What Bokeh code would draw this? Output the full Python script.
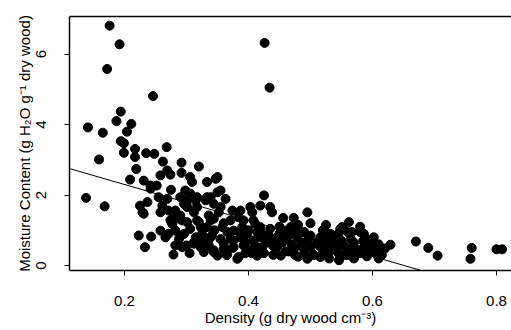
from bokeh.plotting import figure
from bokeh.models import Range1d, FixedTicker, LinearAxis, Slope, ColumnDataSource
from bokeh.embed import file_html
from bokeh.resources import INLINE

# Wood density (g cm-3) and moisture content (g H2O per g dry wood)
density = [
    0.176, 0.192, 0.172, 0.426, 0.434, 0.246, 0.194, 0.187, 0.211, 0.141,
    0.165, 0.204, 0.194, 0.199, 0.159, 0.138, 0.168, 0.199, 0.217, 0.217,
    0.235, 0.248, 0.268, 0.262, 0.292, 0.219, 0.269, 0.274, 0.258, 0.292,
    0.209, 0.231, 0.242, 0.252, 0.275, 0.255, 0.269, 0.290, 0.225, 0.237,
    0.229, 0.231, 0.261, 0.271, 0.277, 0.290, 0.277, 0.258, 0.271, 0.266,
    0.223, 0.243, 0.233, 0.282, 0.279, 0.293, 0.290, 0.320, 0.306, 0.333,
    0.350, 0.242, 0.306, 0.317, 0.301, 0.296, 0.333, 0.350, 0.258, 0.282,
    0.274, 0.288, 0.301, 0.317, 0.306, 0.323, 0.336, 0.344, 0.333, 0.325,
    0.339, 0.282, 0.288, 0.300, 0.312, 0.328, 0.344, 0.336, 0.350, 0.309,
    0.347, 0.355, 0.298, 0.298, 0.301, 0.315, 0.331, 0.339, 0.344, 0.363,
    0.317, 0.312, 0.355, 0.352, 0.374, 0.387, 0.384, 0.403, 0.419, 0.425,
    0.293, 0.296, 0.320, 0.339, 0.341, 0.325, 0.323, 0.358, 0.366, 0.376,
    0.390, 0.398, 0.414, 0.411, 0.312, 0.328, 0.366, 0.384, 0.400, 0.414,
    0.422, 0.376, 0.360, 0.435, 0.438, 0.406, 0.495, 0.456, 0.473, 0.468,
    0.479, 0.460, 0.371, 0.392, 0.408, 0.419, 0.435, 0.562, 0.548, 0.532,
    0.516, 0.586, 0.371, 0.387, 0.408, 0.419, 0.435, 0.446, 0.462, 0.479,
    0.495, 0.344, 0.360, 0.376, 0.392, 0.414, 0.446, 0.473, 0.500, 0.521,
    0.543, 0.565, 0.586, 0.382, 0.452, 0.495, 0.516, 0.546, 0.570, 0.591,
    0.629, 0.670, 0.690, 0.705, 0.760, 0.758, 0.800, 0.809, 0.602, 0.551,
    0.567, 0.470, 0.490, 0.510, 0.530, 0.550, 0.570, 0.580, 0.600, 0.610,
    0.520, 0.540, 0.560, 0.580, 0.600, 0.615, 0.570, 0.530, 0.480, 0.440,
    0.430, 0.450, 0.490, 0.500, 0.525, 0.545, 0.595, 0.605, 0.620, 0.555,
    0.575, 0.590, 0.505, 0.465, 0.485, 0.535, 0.395, 0.365, 0.445, 0.610,
    0.305, 0.315, 0.330, 0.345, 0.355, 0.365, 0.375, 0.385, 0.395, 0.405,
    0.410, 0.420, 0.425, 0.430, 0.440, 0.455, 0.460, 0.470, 0.475, 0.485,
    0.490, 0.500, 0.505, 0.515, 0.520, 0.530, 0.535, 0.545, 0.555, 0.560,
    0.565, 0.575, 0.585, 0.590, 0.600, 0.610, 0.400, 0.360, 0.450, 0.480,
    0.520, 0.550, 0.580,
]
moisture = [
    6.81, 6.28, 5.58, 6.32, 5.05, 4.81, 4.37, 4.10, 4.02, 3.92,
    3.77, 3.80, 3.53, 3.47, 3.01, 1.92, 1.68, 3.20, 3.31, 3.08,
    3.19, 3.17, 3.36, 2.95, 2.92, 2.74, 2.70, 2.58, 2.56, 2.63,
    2.44, 2.41, 2.27, 2.27, 2.15, 1.94, 1.89, 1.94, 1.70, 1.80,
    1.51, 1.47, 1.70, 1.56, 1.33, 1.42, 1.18, 0.99, 0.90, 0.80,
    0.85, 0.82, 0.52, 0.57, 0.31, 0.52, 0.85, 2.81, 2.51, 2.37,
    2.51, 2.18, 2.04, 1.94, 1.85, 1.75, 1.94, 2.08, 1.51, 1.56,
    1.28, 1.33, 1.23, 1.28, 1.04, 1.09, 1.42, 1.33, 1.09, 0.90,
    0.80, 0.99, 0.76, 0.57, 0.66, 0.47, 0.43, 0.57, 0.28, 2.37,
    2.46, 2.13, 2.13, 1.85, 1.66, 1.85, 1.85, 1.94, 1.75, 1.89,
    1.66, 1.51, 1.66, 1.51, 1.56, 1.56, 1.37, 1.66, 1.70, 1.99,
    1.28, 0.90, 1.23, 1.28, 0.85, 0.71, 0.52, 1.09, 0.95, 0.99,
    1.09, 0.90, 0.95, 1.18, 0.62, 0.38, 0.43, 0.24, 0.43, 0.28,
    0.52, 0.71, 0.62, 1.66, 1.51, 1.51, 1.51, 1.35, 1.35, 1.09,
    1.04, 0.99, 1.28, 1.28, 1.28, 1.09, 1.04, 1.23, 1.04, 0.90,
    0.80, 0.90, 0.76, 0.80, 0.71, 0.80, 0.80, 0.80, 0.80, 0.80,
    0.71, 0.38, 0.47, 0.52, 0.57, 0.52, 0.52, 0.47, 0.52, 0.57,
    0.52, 0.47, 0.52, 0.19, 0.28, 0.19, 0.24, 0.15, 0.24, 0.26,
    0.59, 0.68, 0.50, 0.28, 0.50, 0.19, 0.46, 0.46, 0.80, 1.09,
    0.95, 0.60, 0.35, 0.65, 0.40, 0.70, 0.65, 0.35, 0.45, 0.60,
    1.00, 0.80, 0.95, 1.10, 0.70, 0.30, 0.20, 0.20, 0.25, 0.30,
    0.65, 1.10, 0.95, 1.20, 1.15, 0.35, 0.62, 0.35, 0.48, 0.30,
    0.40, 0.75, 0.30, 0.40, 0.55, 0.60, 0.35, 0.30, 0.60, 0.20,
    0.35, 0.80, 0.65, 1.00, 0.75, 0.30, 0.50, 0.95, 0.65, 0.35,
    0.55, 0.95, 0.35, 0.85, 0.55, 0.65, 0.40, 0.90, 0.30, 0.65,
    0.50, 0.85, 0.30, 0.55, 0.35, 0.70, 0.45, 0.90, 0.55, 0.30,
    0.75, 0.45, 0.70, 0.40, 0.55, 0.45, 1.00, 1.20, 0.90, 1.15,
    0.85, 1.05, 0.95,
]

# Least-squares fit: moisture = intercept + slope * density
fit_intercept = 3.32
fit_slope = -5.10

x_ticks = [0.2, 0.4, 0.6, 0.8]
y_ticks = [0, 2, 4, 6]

FONT = "Liberation Sans"
FS = "15px"

p = figure(
    width=511, height=330,
    output_backend="svg", toolbar_location=None,
    x_range=Range1d(0.1113, 0.8242), y_range=Range1d(-0.142, 7.07),
    min_border_left=69, min_border_right=0,
    min_border_top=16, min_border_bottom=60,
)
p.outline_line_color = None
p.xgrid.visible = False
p.ygrid.visible = False
p.background_fill_color = "white"
p.border_fill_color = "white"

src = ColumnDataSource(dict(x=density, y=moisture))
p.scatter("x", "y", source=src, size=9, fill_color="black", line_color="black")

p.add_layout(Slope(gradient=fit_slope, y_intercept=fit_intercept,
                   line_color="black", line_width=1))

for ax in (p.xaxis[0], p.yaxis[0]):
    ax.axis_line_color = "black"
    ax.axis_line_width = 1.5
    ax.major_tick_line_color = "black"
    ax.major_tick_out = 5
    ax.major_tick_in = 0
    ax.minor_tick_line_color = None
    ax.major_label_text_font = FONT
    ax.major_label_text_font_size = FS
    ax.major_label_text_color = "black"
    ax.axis_label_text_font = FONT
    ax.axis_label_text_font_size = FS
    ax.axis_label_text_font_style = "normal"
    ax.axis_label_text_color = "black"

p.xaxis.ticker = FixedTicker(ticks=x_ticks)
p.yaxis.ticker = FixedTicker(ticks=y_ticks)
p.yaxis.major_label_orientation = "vertical"
p.xaxis.major_label_standoff = 20
p.yaxis.major_label_standoff = 18
p.xaxis.axis_label = "Density (g dry wood cm\u207b\u00b3)"
p.yaxis.axis_label = "Moisture Content (g H\u2082O g\u207b\u00b9 dry wood)"
p.xaxis.axis_label_standoff = 0
p.yaxis.axis_label_standoff = 1

# top border of the plotting box
top = LinearAxis(ticker=FixedTicker(ticks=[]), major_label_text_font_size="0px",
                 major_tick_out=0, minor_tick_out=0, axis_line_color="black",
                 axis_line_width=1.5)
p.add_layout(top, "above")

open("out.html", "w").write(file_html(p, INLINE))
